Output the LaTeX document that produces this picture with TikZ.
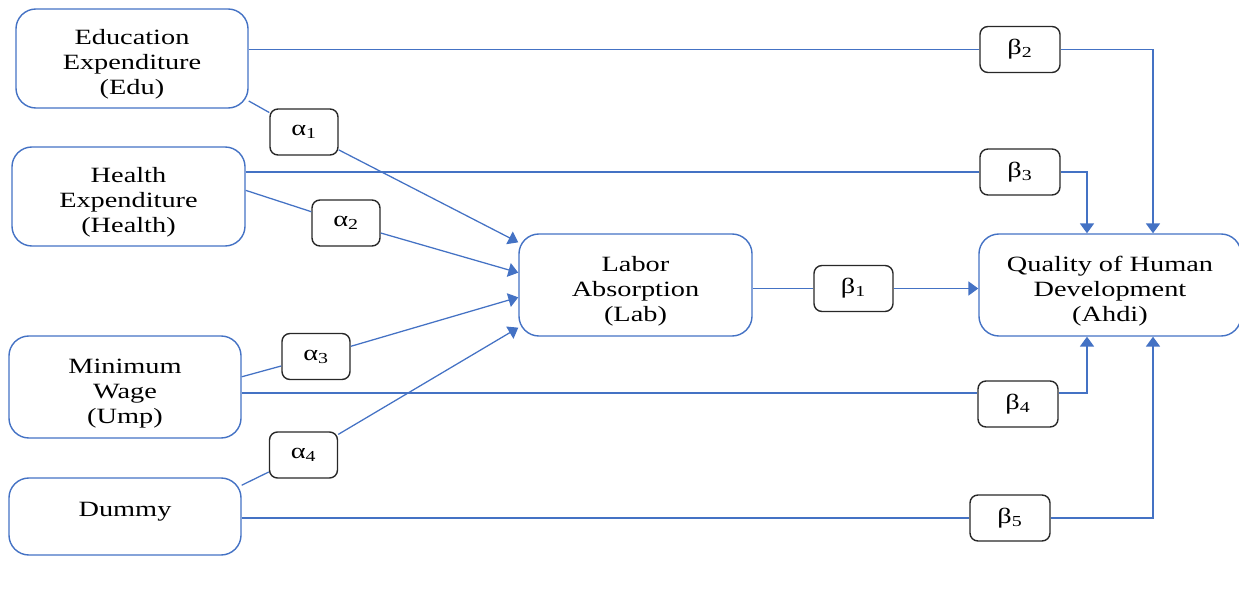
\documentclass[tikz,border=0pt]{standalone}
\usepackage{fontspec}
\setmainfont{Liberation Serif}[FakeStretch=1.3]
\usepackage{tikz}
\usetikzlibrary{arrows.meta,positioning}
\usepackage{xcolor}
\definecolor{wdblue}{RGB}{68,114,196}
\definecolor{wddark}{RGB}{40,40,40}
\newcommand{\topgap}{\rule{0pt}{19pt}}
\tikzstyle{varbox} = [rectangle, rounded corners=0.5cm, draw=wdblue, line width=1pt, minimum width=5.8cm, minimum height=2.5cm, align=center, inner sep=2pt, font=\fontsize{15.5}{17.8}\selectfont]
\tikzstyle{coef} = [rectangle, rounded corners=0.2cm, draw=wddark, line width=1pt, minimum width=1.7cm, minimum height=1.15cm, inner sep=1pt, font=\fontsize{15.5}{17.8}\selectfont]
\tikzstyle{link} = [line width=0.9pt, color=wdblue]
\tikzstyle{arrow} = [link, -{Triangle[length=7pt,width=10pt]}]

\begin{document}
\begin{tikzpicture}[x=0.025cm, y=-0.025cm]
\useasboundingbox (0,0) rectangle (1239,597);
% variables
\node (edu) [varbox, minimum height=2.475cm] at (132,58.5) {\topgap Education\\Expenditure\\(Edu)};
\node (health) [varbox, minimum width=5.825cm, minimum height=2.475cm] at (128.5,196.5) {\topgap Health\\Expenditure\\(Health)};
\node (ump) [varbox, minimum height=2.55cm] at (125,387) {\topgap Minimum\\Wage\\(Ump)};
\node (dummy) [varbox, minimum height=1.925cm] at (125,516.5) {\raisebox{10pt}{Dummy}};
\node (lab) [varbox, minimum width=5.825cm, minimum height=2.55cm] at (635.5,285) {\topgap Labor\\Absorption\\(Lab)};
\node (ahdi) [varbox, minimum width=6.55cm, minimum height=2.55cm] at (1110,285) {\topgap Quality of Human\\Development\\(Ahdi)};
% coefficients
\node (a1) [coef] at (304,132) {α\textsubscript{1}};
\node (a2) [coef] at (346,223) {α\textsubscript{2}};
\node (a3) [coef] at (316,356.5) {α\textsubscript{3}};
\node (a4) [coef] at (303.5,455) {α\textsubscript{4}};
\node (b1) [coef, minimum width=1.975cm] at (853.5,288.5) {β\textsubscript{1}};
\node (b2) [coef, minimum width=2cm] at (1020,49.5) {β\textsubscript{2}};
\node (b3) [coef, minimum width=2cm] at (1020,172) {β\textsubscript{3}};
\node (b4) [coef, minimum width=2cm] at (1018,404) {β\textsubscript{4}};
\node (b5) [coef, minimum width=2cm] at (1010,518) {β\textsubscript{5}};
% paths to Lab
\draw [link] (edu.-20) -- (a1);
\draw [arrow] (a1) -- (lab.160);
\draw [link] (health.3) -- (a2);
\draw [arrow] (a2) -- (lab.174);
\draw [link] (ump.5) -- (a3);
\draw [arrow] (a3) -- (lab.186);
\draw [link] (dummy.15) -- (a4);
\draw [arrow] (a4) -- (lab.200);
% paths to Ahdi
\draw [link] (b1 -| lab.east) -- (b1);
\draw [arrow] (b1) -- (b1 -| ahdi.west);
\draw [link] (b2 -| edu.east) -- (b2);
\draw [arrow] (b2) -| ([xshift=1.075cm]ahdi.north);
\draw [link] (b3 -| health.east) -- (b3);
\draw [arrow] (b3) -| ([xshift=-0.575cm]ahdi.north);
\draw [link] (ump.-3) -- (ump.-3 -| b4.west);
\draw [arrow] (ump.-3 -| b4.east) -| ([xshift=-0.575cm]ahdi.south);
\draw [link] (b5 -| dummy.east) -- (b5);
\draw [arrow] (b5) -| ([xshift=1.075cm]ahdi.south);
\end{tikzpicture}
\end{document}
